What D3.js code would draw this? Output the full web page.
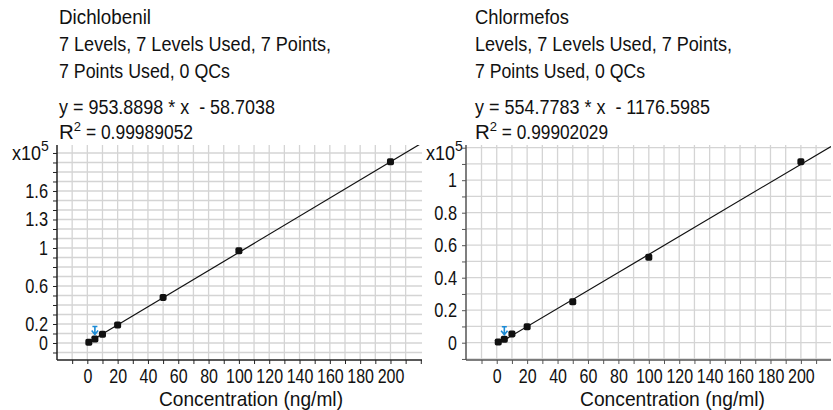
<!DOCTYPE html>
<html>
<head>
<meta charset="utf-8">
<script src="https://cdn.jsdelivr.net/npm/d3@7"></script>
<style>
  html, body { margin: 0; padding: 0; background: #fff; }
  svg { display: block; }
  text { font-family: "Liberation Sans", Arial, sans-serif; fill: #111; }
</style>
</head>
<body>
<svg id="chart" width="833" height="410"></svg>
<script>
// ---------------- data ----------------
const concentrations = [1, 5, 10, 20, 50, 100, 200];
const dichlobenilResponses = [700, 4200, 9200, 19000, 48000, 97000, 190800];
const chlormefosResponses = [400, 2100, 5400, 9800, 25200, 52600, 111400];
const dichlobenilFit = [953.8898, -58.7038];
const chlormefosFit = [554.7783, -1176.5985];
const flaggedIndex = 1;

const dichlobenilTitle = ["Dichlobenil", "7 Levels, 7 Levels Used, 7 Points,", "7 Points Used, 0 QCs"];
const chlormefosTitle = ["Chlormefos", "Levels, 7 Levels Used, 7 Points,", "7 Points Used, 0 QCs"];
const dichlobenilEquation = "y = 953.8898 * x  - 58.7038";
const chlormefosEquation = "y = 554.7783 * x  - 1176.5985";
const dichlobenilR2 = "0.99989052";
const chlormefosR2 = "0.99902029";

const xTickLabels = [0, 20, 40, 60, 80, 100, 120, 140, 160, 180, 200];
const dichlobenilYLabels = [0, 0.2, 0.6, 1, 1.3, 1.6];
const chlormefosYLabels = [0, 0.2, 0.4, 0.6, 0.8, 1];
const xAxisTitle = "Concentration (ng/ml)";
const yMultiplier = "x10";
const yExponent = "5";

// ---------------- drawing ----------------
const svg = d3.select("#chart");
const FS = "20px";
const FA = "21px";
const FT = "20.5px";
// condensed-looking width for numeric labels
const numW = s => s.replace(/\./g, "").length * 8.9 + (s.includes(".") ? 5 : 0);

function condense(sel) {
  sel.each(function () {
    const t = d3.select(this);
    const s = t.text();
    if (!s) { t.remove(); return; }
    t.attr("textLength", numW(s)).attr("lengthAdjust", "spacingAndGlyphs");
  });
}

function panel(cfg) {
  const g = svg.append("g");
  const x = d3.scaleLinear().domain(cfg.xDomain).range([cfg.left, cfg.right]);
  const y = d3.scaleLinear().domain(cfg.yDomain).range([cfg.bottom, cfg.top]);

  const clipId = "clip" + cfg.id;
  svg.append("clipPath").attr("id", clipId)
    .append("rect").attr("x", cfg.left).attr("y", cfg.top)
    .attr("width", cfg.right - cfg.left).attr("height", cfg.bottom - cfg.top);

  // grid
  const xGrid = d3.range(-10, 211, 10);
  const yGrid = d3.range(Math.ceil(cfg.yDomain[0] / 10000), Math.floor(cfg.yDomain[1] / 10000) + 1).map(k => k * 10000);
  const grid = g.append("g").attr("clip-path", `url(#${clipId})`);
  grid.selectAll("line.v").data(xGrid).join("line")
    .attr("x1", d => x(d)).attr("x2", d => x(d))
    .attr("y1", cfg.top).attr("y2", cfg.bottom)
    .attr("stroke", "#d4d4d4").attr("stroke-width", 1.3);
  grid.selectAll("line.h").data(yGrid).join("line")
    .attr("x1", cfg.left).attr("x2", cfg.right)
    .attr("y1", d => y(d)).attr("y2", d => y(d))
    .attr("stroke", "#d4d4d4").attr("stroke-width", 1.3);

  // fit line
  const [m, b] = cfg.fit;
  grid.append("line")
    .attr("x1", x(0)).attr("y1", y(b))
    .attr("x2", x(cfg.xDomain[1])).attr("y2", y(m * cfg.xDomain[1] + b))
    .attr("stroke", "#111").attr("stroke-width", 1.2);

  // points
  const pts = concentrations.map((c, i) => ({ c, v: cfg.values[i], i }));
  g.selectAll("rect.pt").data(pts).join("rect")
    .attr("x", d => x(d.c) - 3.5).attr("y", d => y(d.v) - 3.5)
    .attr("width", 7).attr("height", 7).attr("rx", 1.8)
    .attr("fill", "#111");

  // flagged marker (blue arrow)
  const fp = pts[flaggedIndex];
  const fx = x(fp.c), fy = y(fp.v);
  g.append("path")
    .attr("d", `M${fx},${fy - 13} L${fx},${fy - 5} M${fx - 3.2},${fy - 8.5} L${fx},${fy - 4.5} L${fx + 3.2},${fy - 8.5} M${fx - 2.5},${fy - 12.5} L${fx + 2.5},${fy - 12.5}`)
    .attr("stroke", "#1b8bd6").attr("stroke-width", 1.6).attr("fill", "none");

  // y axis
  const yAx = d3.axisLeft(y).tickValues(yGrid).tickSize(4).tickPadding(5)
    .tickFormat(d => {
      const v = +(d / 100000).toFixed(1);
      return cfg.yLabels.includes(v) ? String(v) : "";
    });
  const yg = g.append("g").attr("transform", `translate(${cfg.left},0)`).call(yAx);
  yg.select(".domain").attr("d", `M0,${cfg.top}V${cfg.bottom}`).attr("stroke", cfg.axisColor).attr("stroke-width", 1.5);
  yg.selectAll(".tick line").attr("stroke", cfg.axisColor);
  yg.selectAll(".tick text").style("font-size", FS).attr("fill", "#111").call(condense);

  // x axis
  const xTicks = d3.range(-10, 221, 10).filter(d => d <= cfg.xDomain[1]);
  const xAx = d3.axisBottom(x).tickValues(xTicks).tickSize(4).tickPadding(4.5)
    .tickFormat(d => xTickLabels.includes(d) ? String(d) : "");
  const xg = g.append("g").attr("transform", `translate(0,${cfg.bottom})`).call(xAx);
  xg.select(".domain").attr("d", `M${cfg.left},0H${cfg.right}`).attr("stroke", cfg.axisColor).attr("stroke-width", 1.5);
  xg.selectAll(".tick line").attr("stroke", cfg.axisColor);
  xg.selectAll(".tick text").style("font-size", FS).attr("fill", "#111").call(condense);

  // x axis title
  g.append("text").attr("x", (cfg.xTitle[0] + cfg.xTitle[1]) / 2).attr("y", 406)
    .attr("text-anchor", "middle").style("font-size", FA)
    .attr("textLength", cfg.xTitle[1] - cfg.xTitle[0]).attr("lengthAdjust", "spacingAndGlyphs")
    .text(xAxisTitle);

  // multiplier label
  const mt = g.append("text").attr("x", cfg.multX).attr("y", 160).style("font-size", FS);
  mt.append("tspan").attr("textLength", 29).attr("lengthAdjust", "spacingAndGlyphs").text(yMultiplier);
  mt.append("tspan").attr("dy", -9).style("font-size", "14px").text(yExponent);

  // title block
  const tb = [24, 51, 78];
  cfg.title.forEach((t, i) => {
    g.append("text").attr("x", cfg.textX).attr("y", tb[i]).style("font-size", FT)
      .attr("textLength", cfg.titleW[i]).attr("lengthAdjust", "spacingAndGlyphs")
      .text(t);
  });
  g.append("text").attr("x", cfg.textX).attr("y", 114).style("font-size", FT)
    .attr("textLength", cfg.eqW).attr("lengthAdjust", "spacingAndGlyphs")
    .attr("xml:space", "preserve")
    .text(cfg.equation);
  const r = g.append("text").attr("x", cfg.textX).attr("y", 139).style("font-size", FT);
  r.append("tspan").text("R");
  r.append("tspan").attr("dy", -8).style("font-size", "13px").text("2");
  r.append("tspan").attr("dy", 8).attr("textLength", cfg.r2W).attr("lengthAdjust", "spacingAndGlyphs").text(" = " + cfg.r2);
}

panel({
  id: "L", left: 57, right: 422, top: 145, bottom: 360,
  xDomain: [-20, 220.8], yDomain: [-17900, 208400],
  values: dichlobenilResponses, fit: dichlobenilFit, yLabels: dichlobenilYLabels,
  axisColor: "#222", xTitle: [159, 343], multX: 12,
  title: dichlobenilTitle, titleW: [92, 272, 171], textX: 59,
  equation: dichlobenilEquation, eqW: 216, r2: dichlobenilR2, r2W: 112
});

panel({
  id: "R", left: 466, right: 831, top: 145, bottom: 360,
  xDomain: [-20.2, 219.8], yDomain: [-10650, 121660],
  values: chlormefosResponses, fit: chlormefosFit, yLabels: chlormefosYLabels,
  axisColor: "#555", xTitle: [580, 765], multX: 426,
  title: chlormefosTitle, titleW: [94, 257, 170], textX: 475,
  equation: chlormefosEquation, eqW: 235, r2: chlormefosR2, r2W: 111
});
</script>
</body>
</html>
